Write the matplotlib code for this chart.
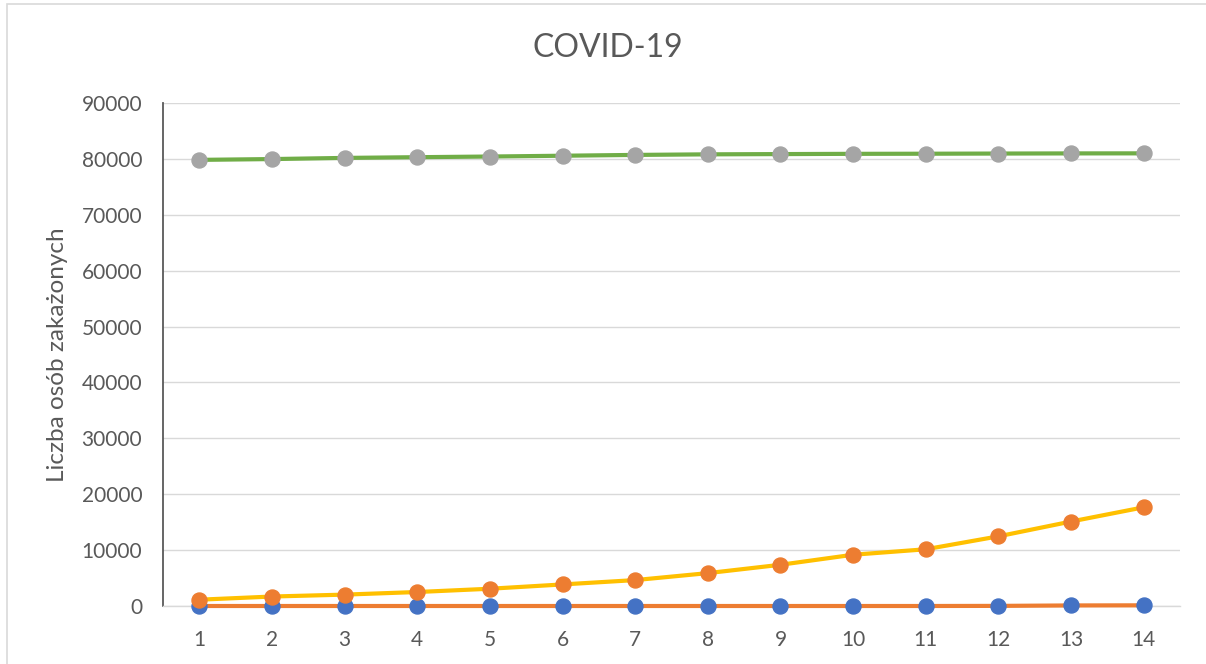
import matplotlib.pyplot as plt
from matplotlib.patches import Rectangle

plt.rcParams['font.family'] = ['Lato', 'DejaVu Sans']

days = list(range(1, 15))
# blue markers / orange line
series_a = [0, 0, 0, 0, 0, 0, 0, 0, 0, 0, 0, 20, 100, 120]
# orange markers / yellow line
series_b = [1128, 1694, 2036, 2502, 3089, 3858, 4636, 5883, 7375, 9172,
            10149, 12462, 15113, 17660]
# gray markers / green line
series_c = [79824, 79968, 80174, 80304, 80422, 80565, 80711, 80813, 80859,
            80904, 80924, 80955, 80981, 80991]

yticks = list(range(0, 90001, 10000))

fig = plt.figure(figsize=(12.06, 6.64), dpi=100)
ax = fig.add_axes([163 / 1206, 1 - 606 / 664, (1180 - 163) / 1206, (606 - 103) / 664])

ms = 10.8
lw = 3.0
ax.plot(days, series_a, color='#ED7D31', lw=lw, marker='o', ms=ms,
        mfc='#4472C4', mec='#4472C4', zorder=3, clip_on=False)
ax.plot(days, series_b, color='#FFC000', lw=lw, marker='o', ms=ms,
        mfc='#ED7D31', mec='#ED7D31', zorder=4, clip_on=False)
ax.plot(days, series_c, color='#70AD47', lw=lw, marker='o', ms=ms,
        mfc='#A5A5A5', mec='#A5A5A5', zorder=5, clip_on=False)

ax.set_xlim(0.5, 14.5)
ax.set_ylim(0, 90000)
ax.set_xticks(days)
ax.set_yticks(yticks)
ax.grid(axis='y', color='#D9D9D9', lw=1.0)
ax.set_axisbelow(True)
ax.tick_params(length=0, labelsize=15, colors='#595959')
ax.tick_params(axis='y', pad=15)
ax.tick_params(axis='x', pad=17)

for s in ['top', 'right']:
    ax.spines[s].set_visible(False)
ax.spines['bottom'].set_color('#D9D9D9')
ax.spines['bottom'].set_linewidth(1.0)
ax.spines['left'].set_color('#595959')
ax.spines['left'].set_linewidth(1.3)

fig.text(608 / 1206, 1 - 48 / 664, 'COVID-19', ha='center', va='center',
         fontsize=23, color='#595959')
fig.text(57 / 1206, 1 - 355 / 664, 'Liczba osób zakażonych', ha='center',
         va='center', rotation=90, fontsize=17.5, color='#595959')

fig.add_artist(Rectangle((6.7 / 1206, -0.1), 1.2, 1.1 - 4.3 / 664,
                         transform=fig.transFigure, fill=False,
                         edgecolor='#D9D9D9', lw=1.2))

fig.savefig('out.png', dpi=100)
